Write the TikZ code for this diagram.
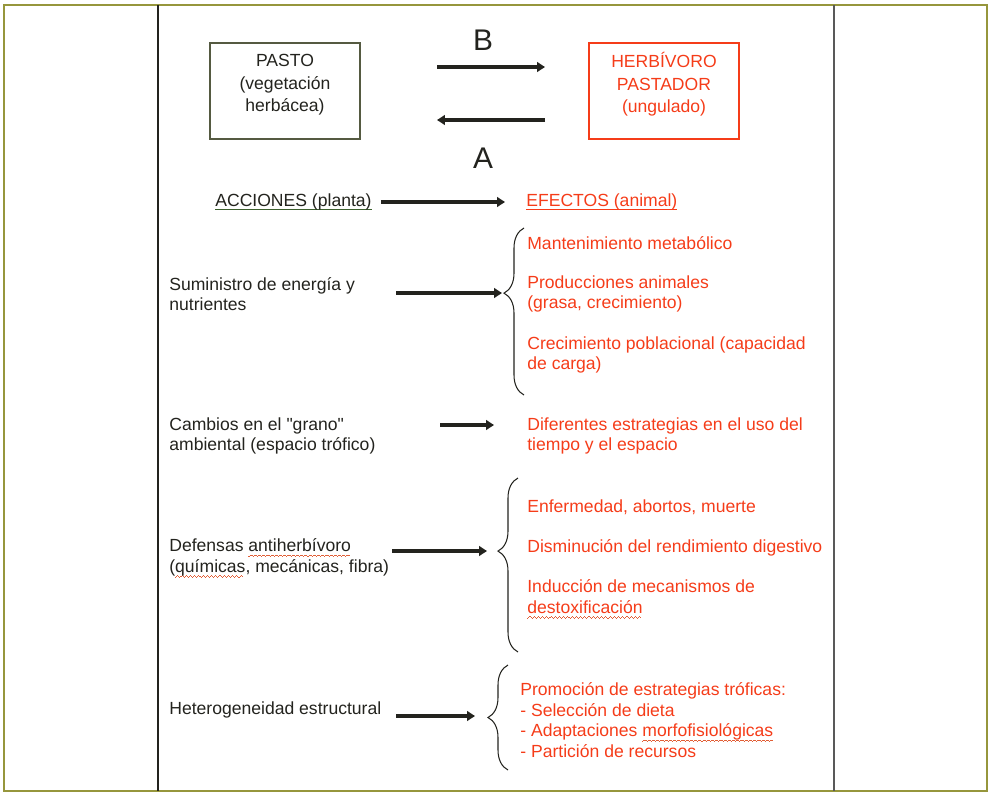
\documentclass[tikz,border=0pt]{standalone}
\usepackage{fontspec}
\setmainfont{Liberation Sans}
\newfontfamily\recta{Liberation Sans}
\usetikzlibrary{arrows.meta,decorations.pathreplacing}
\definecolor{tinta}{RGB}{35,35,30}
\definecolor{rojoefecto}{RGB}{245,60,25}
\definecolor{bordepasto}{RGB}{85,90,65}
\definecolor{verdesub}{RGB}{60,95,45}
\definecolor{marco}{RGB}{150,150,60}
\definecolor{ondarojo}{RGB}{225,95,55}

\newsavebox\cajapalabra
\newcommand\subraya[2]{\sbox\cajapalabra{#2}\rlap{\textcolor{#1}{\rule[-2.2pt]{\wd\cajapalabra}{0.8pt}}}\usebox\cajapalabra}
\newcommand\trozoonda{\hbox{\rule[-2.9pt]{0.6pt}{0.45pt}\rule[-2.5pt]{0.6pt}{0.45pt}\rule[-2.1pt]{0.6pt}{0.45pt}\rule[-2.5pt]{0.6pt}{0.45pt}}}
\newcommand\onda[1]{\sbox\cajapalabra{#1}\rlap{\textcolor{ondarojo}{\hbox to\wd\cajapalabra{\leaders\trozoonda\hfil}}}\usebox\cajapalabra}
\newcommand\comilla{{\recta"}}

\begin{document}
\begin{tikzpicture}[x=0.02cm,y=-0.02cm,
    texto/.style={font=\fontsize{10}{11.7}\selectfont,text=tinta,align=left,anchor=west,inner sep=0pt},
    efecto/.style={texto,text=rojoefecto},
    caja/.style={draw,line width=0.8pt,minimum width=3cm,minimum height=1.92cm},
    cajatexto/.style={font=\fontsize{10}{12.6}\selectfont,align=center,anchor=north,inner sep=0pt},
    letra/.style={font=\fontsize{17}{17}\selectfont,text=tinta},
    flecha/.style={draw=tinta,line width=1.9pt,-{Triangle[length=4.5pt,width=5.5pt]}},
    llave/.style={draw=tinta,line width=0.6pt,decorate,decoration={brace,amplitude=0.4cm}}]
  \useasboundingbox (0,0) rectangle (991,795);
  \draw[marco,line width=1.2pt] (4,5) rectangle (987,791);
  \draw[line width=1.1pt,tinta] (158,5) -- (158,791);
  \draw[line width=1.1pt,black!65] (834,5) -- (834,791);

  \node[caja,draw=bordepasto] (pasto) at (285,91) {};
  \node[cajatexto,text=tinta] (pastotxt) at ([yshift=-0.24cm]pasto.north)
    {PASTO\\(vegetación\\herbácea)};
  \node[caja,draw=rojoefecto] (herbivoro) at (664,91) {};
  \node[cajatexto,text=rojoefecto] (herbivorotxt) at ([yshift=-0.2cm]herbivoro.north)
    {HERBÍVORO\\PASTADOR\\(ungulado)};
  \node[letra] (letraB) at (483,40) {B};
  \node[letra] (letraA) at (483,158) {A};
  \coordinate (b1) at (437,67);
  \coordinate (b2) at (545,67);
  \coordinate (a1) at (545,120);
  \coordinate (a2) at (437,120);
  \draw[flecha] (b1) -- (b2);
  \draw[flecha] (a1) -- (a2);

  \node[texto] (acciones) at (215,202) {\subraya{verdesub}{ACCIONES (planta)}};
  \node[efecto] (efectos) at (526,202) {\subraya{rojoefecto}{EFECTOS (animal)}};
  \draw[flecha,shorten <=0.18cm,shorten >=0.42cm] (acciones) -- (efectos);

  \node[texto] (suministro) at (169,294) {Suministro de energía y\\nutrientes};
  \draw[llave] (524,395) -- (524,228) [decoration={aspect=0.61}];
  \coordinate (punta1) at (502,293);
  \coordinate (cola1) at (396,293);
  \draw[flecha] (cola1) -- (punta1);
  \node[efecto] (mantenimiento) at (527,243) {Mantenimiento metabólico};
  \node[efecto] (producciones) at (527,294) {Producciones animales\\(grasa, crecimiento)};
  \node[efecto] (poblacional) at (527,355) {Crecimiento poblacional (capacidad\\de carga)};

  \node[texto] (cambios) at (169,436) {Cambios en el \comilla grano\comilla\\ambiental (espacio trófico)};
  \coordinate (cola2) at (440,425);
  \coordinate (punta2) at (494,425);
  \draw[flecha] (cola2) -- (punta2);
  \node[efecto] (estrategias) at (527,436) {Diferentes estrategias en el uso del\\tiempo y el espacio};

  \node[texto] (defensas) at (169,558) {Defensas \onda{antiherbívoro}\\(\onda{químicas}, mecánicas, fibra)};
  \draw[llave] (518,652) -- (518,478) [decoration={aspect=0.58}];
  \coordinate (cola3) at (392,551);
  \coordinate (punta3) at (487,551);
  \draw[flecha] (cola3) -- (punta3);
  \node[efecto] (enfermedad) at (527,507) {Enfermedad, abortos, muerte};
  \node[efecto] (disminucion) at (527,548) {Disminución del rendimiento digestivo};
  \node[efecto] (induccion) at (527,599) {Inducción de mecanismos de\\\onda{destoxificación}};

  \node[texto] (heterogeneidad) at (169,710) {Heterogeneidad estructural};
  \draw[llave] (508,770) -- (508,665) [decoration={aspect=0.5}];
  \coordinate (cola4) at (396,716);
  \coordinate (punta4) at (475,716);
  \draw[flecha] (cola4) -- (punta4);
  \node[efecto] (promocion) at (520,720) {Promoción de estrategias tróficas:\\- Selección de dieta\\- Adaptaciones \onda{morfofisiológicas}\\- Partición de recursos};
\end{tikzpicture}
\end{document}
